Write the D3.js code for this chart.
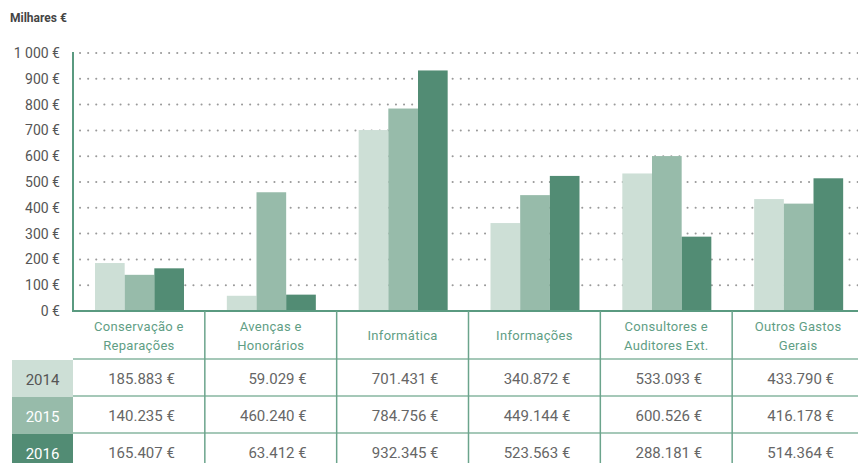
<!DOCTYPE html>
<html>
<head>
<meta charset="utf-8">
<script src="https://cdn.jsdelivr.net/npm/d3@7"></script>
<style>
  body { margin: 0; background: #fff; }
  text { font-family: Roboto, "Noto Sans", sans-serif; }
</style>
</head>
<body>
<div id="chart"></div>
<script>
// data (milhares de euros)
const categories = [
    ['Conservação e', 'Reparações'],
    ['Avenças e', 'Honorários'],
    ['Informática'],
    ['Informações'],
    ['Consultores e', 'Auditores Ext.'],
    ['Outros Gastos', 'Gerais']
];
const years = ['2014', '2015', '2016'];
const values2014 = [185.883, 59.029, 701.431, 340.872, 533.093, 433.790];
const values2015 = [140.235, 460.240, 784.756, 449.144, 600.526, 416.178];
const values2016 = [165.407, 63.412, 932.345, 523.563, 288.181, 514.364];
const yTicks = [0, 100, 200, 300, 400, 500, 600, 700, 800, 900, 1000];

const series = [values2014, values2015, values2016];
const colors = ['#cddfd6', '#97bbaa', '#528c74'];

const width = 858, height = 463;
const plotLeft = 73, plotRight = 864, plotTop = 53, plotBottom = 311;

const svg = d3.select('#chart').append('svg')
    .attr('width', width)
    .attr('height', height);

// scales
const x0 = d3.scaleBand()
    .domain(d3.range(categories.length))
    .range([plotLeft, plotRight]);

const x1 = d3.scaleBand()
    .domain(d3.range(years.length))
    .range([22, 111]);

const y = d3.scaleLinear().domain([0, 1000]).range([plotBottom, plotTop]);

// unit title
svg.append('text')
    .attr('x', 10).attr('y', 22)
    .attr('font-size', 12).attr('font-weight', 'bold')
    .attr('fill', '#444')
    .text('Milhares €');

// dotted gridlines
svg.append('g')
    .selectAll('line')
    .data(yTicks.filter(d => d > 0))
    .join('line')
    .attr('x1', plotLeft + 7).attr('x2', width)
    .attr('y1', d => y(d)).attr('y2', d => y(d))
    .attr('stroke', '#9a9a9a')
    .attr('stroke-width', 2)
    .attr('stroke-linecap', 'round')
    .attr('stroke-dasharray', '0.1,8');

// y axis labels
const yAxis = d3.axisLeft(y)
    .tickValues(yTicks)
    .tickSize(0)
    .tickPadding(13)
    .tickFormat(d => d3.format(',')(d).replace(',', ' ') + ' €');

svg.append('g')
    .attr('transform', `translate(${plotLeft},0)`)
    .call(yAxis)
    .call(g => g.select('.domain').remove())
    .call(g => g.selectAll('text')
        .attr('font-size', 14)
        .attr('fill', '#555')
        .attr('font-family', 'Roboto, sans-serif'));

// bars
const groups = svg.append('g')
    .selectAll('g')
    .data(categories.map((c, i) => i))
    .join('g')
    .attr('transform', i => `translate(${x0(i)},0)`);

groups.selectAll('rect')
    .data(i => series.map((s, j) => ({ j: j, v: s[i] })))
    .join('rect')
    .attr('x', d => x1(d.j))
    .attr('width', x1.bandwidth())
    .attr('y', d => y(d.v))
    .attr('height', d => y(0) - y(d.v))
    .attr('fill', d => colors[d.j]);

// axis lines
svg.append('line')
    .attr('x1', plotLeft).attr('x2', plotLeft)
    .attr('y1', plotTop - 1).attr('y2', plotBottom + 1)
    .attr('stroke', '#5a9a80').attr('stroke-width', 2);
svg.append('line')
    .attr('x1', plotLeft - 1).attr('x2', width)
    .attr('y1', plotBottom).attr('y2', plotBottom)
    .attr('stroke', '#5a9a80').attr('stroke-width', 2);

// table
const headerBottom = 359;
const rowH = 37;

// year cells
const yearCells = svg.append('g')
    .selectAll('g')
    .data(years)
    .join('g')
    .attr('transform', (d, i) => `translate(12,${headerBottom + 1 + i * rowH})`);

yearCells.append('rect')
    .attr('width', plotLeft - 12)
    .attr('height', rowH)
    .attr('fill', (d, i) => colors[i]);

yearCells.append('text')
    .attr('x', (plotLeft - 12) / 2)
    .attr('y', rowH / 2 + 1)
    .attr('dy', '0.35em')
    .attr('text-anchor', 'middle')
    .attr('font-size', 15)
    .attr('fill', (d, i) => i === 0 ? '#555' : '#fff')
    .text(d => d);

// horizontal table lines
svg.append('g')
    .selectAll('line')
    .data(d3.range(years.length))
    .join('line')
    .attr('x1', plotLeft).attr('x2', width)
    .attr('y1', i => headerBottom + i * rowH)
    .attr('y2', i => headerBottom + i * rowH)
    .attr('stroke', '#a5c8b8').attr('stroke-width', 2);

// vertical separators
svg.append('g')
    .selectAll('line')
    .data(d3.range(1, categories.length))
    .join('line')
    .attr('x1', i => x0(i)).attr('x2', i => x0(i))
    .attr('y1', plotBottom).attr('y2', height)
    .attr('stroke', '#6ba48c').attr('stroke-width', 1.5);

// category header labels
const header = svg.append('g')
    .selectAll('text')
    .data(categories)
    .join('text')
    .attr('text-anchor', 'middle')
    .attr('font-size', 13)
    .attr('letter-spacing', 0.3)
    .attr('fill', '#5f9e85')
    .attr('transform', (d, i) => `translate(${x0(i) + x0.bandwidth() / 2},${d.length === 1 ? 340 : 331})`);

header.selectAll('tspan')
    .data(d => d)
    .join('tspan')
    .attr('x', 0)
    .attr('dy', (d, i) => i === 0 ? 0 : 19)
    .text(d => d);

// values
const fmt = d => d3.format('.3f')(d) + ' €';
series.forEach((s, j) => {
    svg.append('g')
        .selectAll('text')
        .data(s)
        .join('text')
        .attr('x', (d, i) => x0(i) + x0.bandwidth() - 30)
        .attr('y', headerBottom + j * rowH + rowH / 2 + 1)
        .attr('dy', '0.35em')
        .attr('text-anchor', 'end')
        .attr('font-size', 15)
        .attr('fill', '#666')
        .text(fmt);
});
</script>
</body>
</html>
